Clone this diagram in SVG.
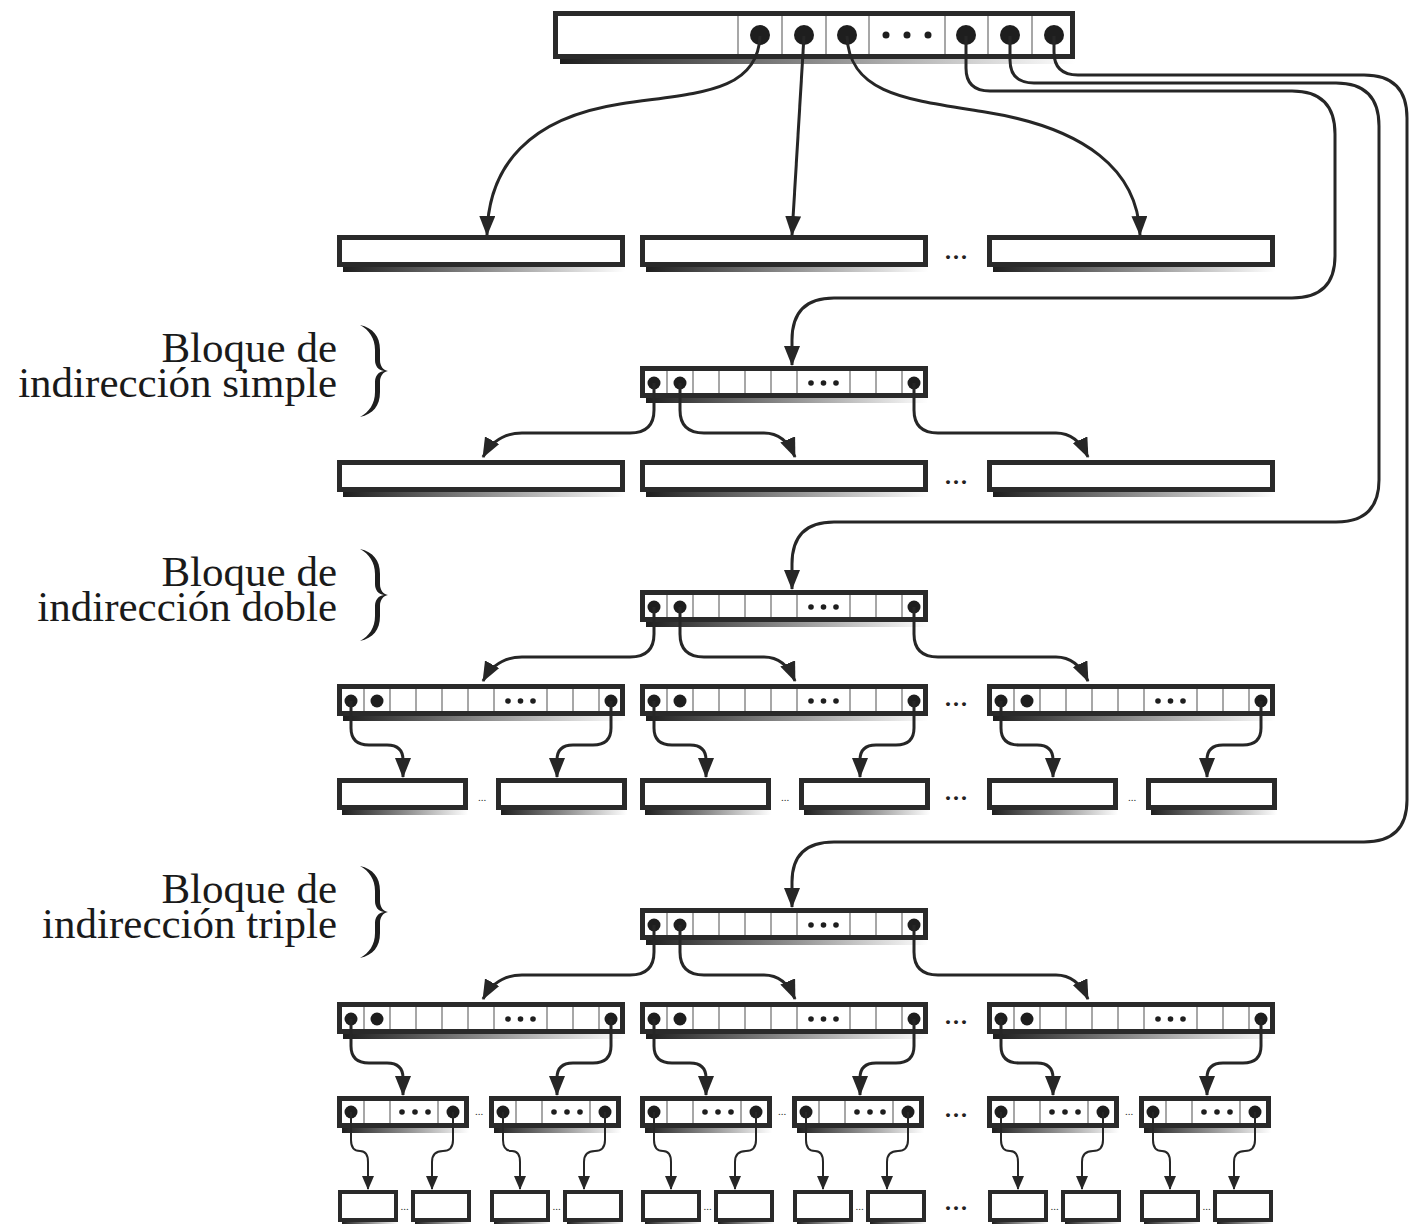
<svg xmlns="http://www.w3.org/2000/svg" width="1411" height="1224" viewBox="0 0 1411 1224">
<style>
.box{fill:#fff;stroke:#2a2a2a;stroke-width:5}
.boxt{fill:#fff;stroke:#2a2a2a;stroke-width:4}
.dv{stroke:#8a8a8a;stroke-width:1.5}
.dot{fill:#1e1e1e}
.conn{fill:none;stroke:#262626;stroke-width:3}
.thin{fill:none;stroke:#262626;stroke-width:2}
.lbl{font-family:"Liberation Serif","Times New Roman",serif;font-size:43px;fill:#1a1a1a;text-anchor:end}
.ell{font-family:"Liberation Serif","Times New Roman",serif;font-size:24px;font-weight:bold;fill:#222;text-anchor:middle;letter-spacing:2px}
.ells{font-family:"Liberation Serif","Times New Roman",serif;font-size:11px;fill:#333;text-anchor:middle}
.brace{fill:#1e1e1e}
</style>
<defs>
<linearGradient id="sh" x1="0" y1="0" x2="1" y2="0">
<stop offset="0" stop-color="#1e1e1e"/>
<stop offset="0.5" stop-color="#8c8c8c"/>
<stop offset="1" stop-color="#ffffff"/>
</linearGradient>
<marker id="ah" viewBox="0 0 20 16" refX="19" refY="8" markerWidth="20" markerHeight="16" markerUnits="userSpaceOnUse" orient="auto"><path d="M0,0 L20,8 L0,16 Z" fill="#262626"/></marker>
<marker id="ahs" viewBox="0 0 14 12" refX="13" refY="6" markerWidth="14" markerHeight="12" markerUnits="userSpaceOnUse" orient="auto"><path d="M0,0 L14,6 L0,12 Z" fill="#262626"/></marker>
<g id="dw"><rect x="6" y="32" width="282" height="5" fill="url(#sh)"/><rect class="box" x="2.5" y="2.5" width="283" height="27"/></g>
<g id="iw"><rect x="6" y="32" width="282" height="5" fill="url(#sh)"/><rect class="box" x="2.5" y="2.5" width="283" height="27"/>
<g class="dv"><line x1="27" y1="5" x2="27" y2="27"/><line x1="53" y1="5" x2="53" y2="27"/><line x1="79" y1="5" x2="79" y2="27"/><line x1="105" y1="5" x2="105" y2="27"/><line x1="131" y1="5" x2="131" y2="27"/><line x1="157" y1="5" x2="157" y2="27"/><line x1="210" y1="5" x2="210" y2="27"/><line x1="236" y1="5" x2="236" y2="27"/><line x1="262" y1="5" x2="262" y2="27"/></g>
<circle class="dot" cx="14" cy="17" r="6.5"/><circle class="dot" cx="40" cy="17" r="6.5"/><circle class="dot" cx="274" cy="17" r="6.5"/>
<circle class="dot" cx="171" cy="17" r="2.8"/><circle class="dot" cx="183.5" cy="17" r="2.8"/><circle class="dot" cx="196" cy="17" r="2.8"/></g>
<g id="dm"><rect x="5" y="32" width="126" height="5" fill="url(#sh)"/><rect class="box" x="2.5" y="2.5" width="126" height="27"/></g>
<g id="is"><rect x="5" y="32" width="127" height="5" fill="url(#sh)"/><rect class="box" x="2.5" y="2.5" width="127" height="27"/>
<g class="dv"><line x1="27" y1="5" x2="27" y2="27"/><line x1="53" y1="5" x2="53" y2="27"/><line x1="101" y1="5" x2="101" y2="27"/></g>
<circle class="dot" cx="14" cy="16" r="6.5"/><circle class="dot" cx="116" cy="16" r="6.5"/>
<circle class="dot" cx="65" cy="16" r="2.8"/><circle class="dot" cx="78" cy="16" r="2.8"/><circle class="dot" cx="91" cy="16" r="2.8"/></g>
<g id="dt"><rect x="4" y="31" width="56" height="3" fill="url(#sh)"/><rect class="boxt" x="2" y="2" width="56" height="28"/></g>
<path id="brace" class="brace" d="M0,0 C13,3 20,11 20,25 L20,35 C20,41 23,45 28,46 C23,47 20,51 20,57 L20,67 C20,81 13,89 0,92 C9,87 15,79 15,67 L15,57 C15,51 18,47 24,46 C18,45 15,41 15,35 L15,25 C15,13 9,5 0,0 Z"/>
</defs>

<g id="inode">
<rect x="560" y="59" width="515" height="5" fill="url(#sh)"/>
<rect class="box" x="555.5" y="13.5" width="517" height="43"/>
<g class="dv"><line x1="738" y1="16" x2="738" y2="54"/><line x1="782" y1="16" x2="782" y2="54"/><line x1="826" y1="16" x2="826" y2="54"/><line x1="869" y1="16" x2="869" y2="54"/><line x1="945" y1="16" x2="945" y2="54"/><line x1="988" y1="16" x2="988" y2="54"/><line x1="1032" y1="16" x2="1032" y2="54"/></g>
<circle class="dot" cx="760" cy="35" r="10"/><circle class="dot" cx="804" cy="35" r="10"/><circle class="dot" cx="847" cy="35" r="10"/>
<circle class="dot" cx="886" cy="35" r="3.5"/><circle class="dot" cx="907" cy="35" r="3.5"/><circle class="dot" cx="928" cy="35" r="3.5"/>
<circle class="dot" cx="966" cy="35" r="10"/><circle class="dot" cx="1010" cy="35" r="10"/><circle class="dot" cx="1054" cy="35" r="10"/>
</g>

<g id="direct-1"><use href="#dw" x="337" y="235"/></g>
<g id="direct-2"><use href="#dw" x="640" y="235"/></g>
<g id="direct-3"><use href="#dw" x="987" y="235"/></g>

<g id="label-simple"><text class="lbl" x="337" y="362">Bloque de<tspan x="337" dy="35">indirección simple</tspan></text><use href="#brace" x="360" y="325"/></g>
<g id="simple-block"><use href="#iw" x="640" y="366"/></g>
<g id="simple-data-1"><use href="#dw" x="337" y="460"/></g>
<g id="simple-data-2"><use href="#dw" x="640" y="460"/></g>
<g id="simple-data-3"><use href="#dw" x="987" y="460"/></g>

<g id="label-double"><text class="lbl" x="337" y="586">Bloque de<tspan x="337" dy="35">indirección doble</tspan></text><use href="#brace" x="360" y="549"/></g>
<g id="double-block"><use href="#iw" x="640" y="590"/></g>
<g id="double-ind-1"><use href="#iw" x="337" y="684"/></g>
<g id="double-ind-2"><use href="#iw" x="640" y="684"/></g>
<g id="double-ind-3"><use href="#iw" x="987" y="684"/></g>
<g id="double-data-1"><use href="#dm" x="337" y="778"/></g>
<g id="double-data-2"><use href="#dm" x="496" y="778"/></g>
<g id="double-data-3"><use href="#dm" x="640" y="778"/></g>
<g id="double-data-4"><use href="#dm" x="799" y="778"/></g>
<g id="double-data-5"><use href="#dm" x="987" y="778"/></g>
<g id="double-data-6"><use href="#dm" x="1146" y="778"/></g>

<g id="label-triple"><text class="lbl" x="337" y="903">Bloque de<tspan x="337" dy="35">indirección triple</tspan></text><use href="#brace" x="360" y="866"/></g>
<g id="triple-block"><use href="#iw" x="640" y="908"/></g>
<g id="triple-ind-1"><use href="#iw" x="337" y="1002"/></g>
<g id="triple-ind-2"><use href="#iw" x="640" y="1002"/></g>
<g id="triple-ind-3"><use href="#iw" x="987" y="1002"/></g>
<g id="triple-ind2-1"><use href="#is" x="337" y="1096"/></g>
<g id="triple-ind2-2"><use href="#is" x="489" y="1096"/></g>
<g id="triple-ind2-3"><use href="#is" x="640" y="1096"/></g>
<g id="triple-ind2-4"><use href="#is" x="792" y="1096"/></g>
<g id="triple-ind2-5"><use href="#is" x="987" y="1096"/></g>
<g id="triple-ind2-6"><use href="#is" x="1139" y="1096"/></g>
<g id="triple-data-1"><use href="#dt" x="338" y="1190"/></g>
<g id="triple-data-2"><use href="#dt" x="411" y="1190"/></g>
<g id="triple-data-3"><use href="#dt" x="490" y="1190"/></g>
<g id="triple-data-4"><use href="#dt" x="563" y="1190"/></g>
<g id="triple-data-5"><use href="#dt" x="641" y="1190"/></g>
<g id="triple-data-6"><use href="#dt" x="714" y="1190"/></g>
<g id="triple-data-7"><use href="#dt" x="793" y="1190"/></g>
<g id="triple-data-8"><use href="#dt" x="866" y="1190"/></g>
<g id="triple-data-9"><use href="#dt" x="988" y="1190"/></g>
<g id="triple-data-10"><use href="#dt" x="1061" y="1190"/></g>
<g id="triple-data-11"><use href="#dt" x="1140" y="1190"/></g>
<g id="triple-data-12"><use href="#dt" x="1213" y="1190"/></g>

<g id="ellipses">
<text class="ell" x="957" y="259">...</text>
<text class="ell" x="957" y="484">...</text>
<text class="ell" x="957" y="706">...</text>
<text class="ell" x="957" y="800">...</text>
<text class="ell" x="957" y="1024">...</text>
<text class="ell" x="957" y="1117">...</text>
<text class="ell" x="957" y="1210">...</text>
<text class="ells" x="482" y="801">...</text>
<text class="ells" x="785" y="801">...</text>
<text class="ells" x="1132" y="801">...</text>
<text class="ells" x="479" y="1115">...</text>
<text class="ells" x="782" y="1115">...</text>
<text class="ells" x="1129" y="1115">...</text>
<text class="ells" x="404.5" y="1210">...</text>
<text class="ells" x="556.5" y="1210">...</text>
<text class="ells" x="707.5" y="1210">...</text>
<text class="ells" x="859.5" y="1210">...</text>
<text class="ells" x="1054.5" y="1210">...</text>
<text class="ells" x="1206.5" y="1210">...</text>
</g>

<g id="connectors">
<g class="conn" marker-end="url(#ah)">
<path d="M760,36 C758,95 690,93 620,104 C530,118 488,165 487,235"/>
<path d="M804,36 L792,235"/>
<path d="M847,36 C849,95 910,100 985,112 C1085,128 1138,170 1140,235"/>
<path d="M966,36 L966,68 Q966,91 990,91 L1292,91 Q1335,91 1335,134 L1335,256 Q1335,298 1292,298 L834,298 Q792,298 792,340 L792,365"/>
<path d="M1010,36 L1010,60 Q1010,83 1034,83 L1336,83 Q1379,83 1379,126 L1379,480 Q1379,522 1336,522 L834,522 Q792,522 792,564 L792,589"/>
<path d="M1054,36 L1054,52 Q1054,75 1078,75 L1364,75 Q1407,75 1407,118 L1407,800 Q1407,842 1364,842 L834,842 Q792,842 792,882 L792,907"/>

<path d="M654,383 L654,410 Q654,433 630,433 L522,433 Q496,433 483,457"/>
<path d="M680,383 L680,410 Q680,433 704,433 L764,433 Q785,433 795,457"/>
<path d="M914,383 L914,410 Q914,433 938,433 L1056,433 Q1077,433 1088,457"/>

<path d="M654,607 L654,634 Q654,657 630,657 L522,657 Q496,657 483,681"/>
<path d="M680,607 L680,634 Q680,657 704,657 L764,657 Q785,657 795,681"/>
<path d="M914,607 L914,634 Q914,657 938,657 L1056,657 Q1077,657 1088,681"/>

<path d="M351,701 L351,728 Q351,745 369,745 L387,745 Q403,745 403,760 L403,777"/>
<path d="M611,701 L611,728 Q611,745 593,745 L573,745 Q557,745 557,760 L557,777"/>
<path d="M654,701 L654,728 Q654,745 672,745 L690,745 Q706,745 706,760 L706,777"/>
<path d="M914,701 L914,728 Q914,745 896,745 L876,745 Q860,745 860,760 L860,777"/>
<path d="M1001,701 L1001,728 Q1001,745 1019,745 L1037,745 Q1053,745 1053,760 L1053,777"/>
<path d="M1261,701 L1261,728 Q1261,745 1243,745 L1223,745 Q1207,745 1207,760 L1207,777"/>

<path d="M654,925 L654,952 Q654,975 630,975 L522,975 Q496,975 483,999"/>
<path d="M680,925 L680,952 Q680,975 704,975 L764,975 Q785,975 795,999"/>
<path d="M914,925 L914,952 Q914,975 938,975 L1056,975 Q1077,975 1088,999"/>

<path d="M351,1019 L351,1046 Q351,1063 369,1063 L387,1063 Q403,1063 403,1078 L403,1095"/>
<path d="M611,1019 L611,1046 Q611,1063 593,1063 L573,1063 Q557,1063 557,1078 L557,1095"/>
<path d="M654,1019 L654,1046 Q654,1063 672,1063 L690,1063 Q706,1063 706,1078 L706,1095"/>
<path d="M914,1019 L914,1046 Q914,1063 896,1063 L876,1063 Q860,1063 860,1078 L860,1095"/>
<path d="M1001,1019 L1001,1046 Q1001,1063 1019,1063 L1037,1063 Q1053,1063 1053,1078 L1053,1095"/>
<path d="M1261,1019 L1261,1046 Q1261,1063 1243,1063 L1223,1063 Q1207,1063 1207,1078 L1207,1095"/>
</g>
<g class="thin" marker-end="url(#ahs)">
<path d="M351,1112 L351,1140 Q351,1151 360,1151 Q368,1151 368,1162 L368,1189"/>
<path d="M453,1112 L453,1140 Q453,1151 443,1151 Q432,1151 432,1162 L432,1189"/>
<path d="M503,1112 L503,1140 Q503,1151 512,1151 Q520,1151 520,1162 L520,1189"/>
<path d="M605,1112 L605,1140 Q605,1151 595,1151 Q584,1151 584,1162 L584,1189"/>
<path d="M654,1112 L654,1140 Q654,1151 663,1151 Q671,1151 671,1162 L671,1189"/>
<path d="M756,1112 L756,1140 Q756,1151 746,1151 Q735,1151 735,1162 L735,1189"/>
<path d="M806,1112 L806,1140 Q806,1151 815,1151 Q823,1151 823,1162 L823,1189"/>
<path d="M908,1112 L908,1140 Q908,1151 898,1151 Q887,1151 887,1162 L887,1189"/>
<path d="M1001,1112 L1001,1140 Q1001,1151 1010,1151 Q1018,1151 1018,1162 L1018,1189"/>
<path d="M1103,1112 L1103,1140 Q1103,1151 1093,1151 Q1082,1151 1082,1162 L1082,1189"/>
<path d="M1153,1112 L1153,1140 Q1153,1151 1162,1151 Q1170,1151 1170,1162 L1170,1189"/>
<path d="M1255,1112 L1255,1140 Q1255,1151 1245,1151 Q1234,1151 1234,1162 L1234,1189"/>
</g>
</g>
</svg>
